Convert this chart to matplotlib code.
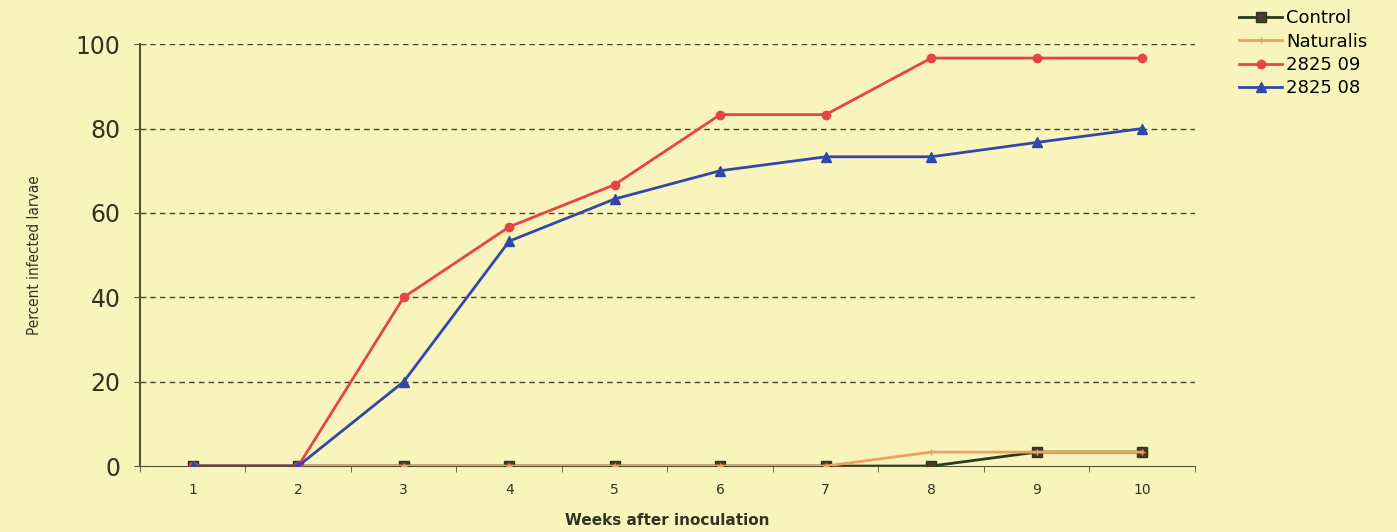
import numpy as np
import matplotlib.pyplot as plt

weeks = [1, 2, 3, 4, 5, 6, 7, 8, 9, 10]
control = [0, 0, 0, 0, 0, 0, 0, 0, 3.3, 3.3]
naturalis = [0, 0, 0, 0, 0, 0, 0, 3.3, 3.3, 3.3]
s2825_09 = [0, 0, 40, 56.7, 66.7, 83.3, 83.3, 96.7, 96.7, 96.7]
s2825_08 = [0, 0, 20, 53.3, 63.3, 70, 73.3, 73.3, 76.7, 80]

bg = '#f8f4bc'
fig = plt.figure(figsize=(13.97, 5.32), dpi=100, facecolor=bg)
ax = fig.add_axes([0.1002, 0.124, 0.7552, 0.793], facecolor=bg)

ax.plot(weeks, control, color='#2a3a1a', marker='s', markersize=7, mfc='#4a3a2a', lw=2, label='Control', zorder=3)
ax.plot(weeks, naturalis, color='#f0a060', marker='+', markersize=5, lw=2, label='Naturalis', zorder=4)
ax.plot(weeks, s2825_09, color='#e84444', marker='o', markersize=6, lw=2, label='2825 09', zorder=5)
ax.plot(weeks, s2825_08, color='#3048a8', marker='^', markersize=7, lw=2, label='2825 08', zorder=6)

ax.set_xlim(0.5, 10.5)
ax.set_ylim(0, 100)
ax.set_yticks([0, 20, 40, 60, 80, 100])
ax.set_xticks(weeks)
ax.set_xticks(np.arange(0.5, 11, 1), minor=True)
ax.tick_params(axis='x', which='major', length=0, labelsize=10, pad=12, colors='#333322')
ax.tick_params(axis='x', which='minor', length=4, direction='out', color='#555533')
ax.tick_params(axis='y', labelsize=17, length=8, direction='inout', color='#555533', pad=10, labelcolor='#333322')
for y in [20, 40, 60, 80, 100]:
    ax.axhline(y, color='#444433', ls=(0, (4, 3)), lw=1, zorder=1)
for s in ['top', 'right']:
    ax.spines[s].set_visible(False)
ax.spines['left'].set_color('#555533')
ax.spines['left'].set_linewidth(1.5)
ax.spines['bottom'].set_color('#555533')

ax.set_ylabel('Percent infected larvae', fontsize=11, fontstretch='condensed', labelpad=24, color='#333322')
ax.set_xlabel('Weeks after inoculation', fontsize=11, fontweight='bold', labelpad=12, color='#333322')

ax.legend(loc='upper left', bbox_to_anchor=(1.035, 1.1), frameon=False, fontsize=13, handlelength=2.4,
          handletextpad=0.2, labelspacing=0.3, borderaxespad=0)

fig.savefig('out.png', dpi=100, facecolor=bg)
